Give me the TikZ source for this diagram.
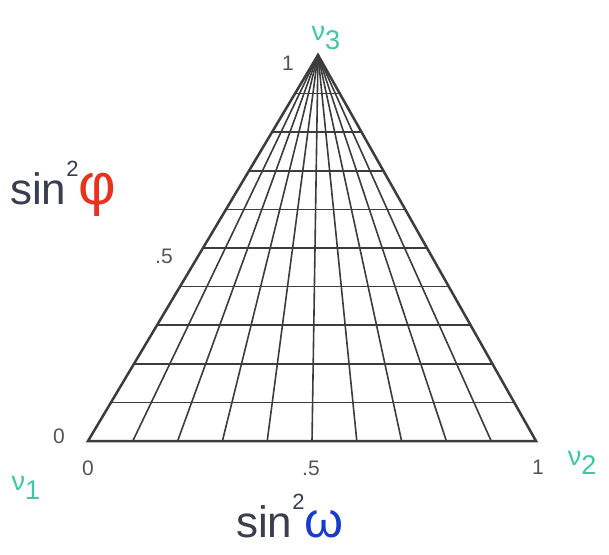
\documentclass[tikz,border=0pt]{standalone}
\usepackage{fontspec}
\setmainfont{Liberation Sans}
\usetikzlibrary{calc}
\definecolor{numgray}{RGB}{85,85,85}
\definecolor{gridgray}{RGB}{60,60,60}
\definecolor{slate}{RGB}{55,62,80}
\definecolor{phired}{RGB}{232,50,30}
\definecolor{omegablue}{RGB}{25,60,205}
\definecolor{nugreen}{RGB}{60,200,160}
\tikzset{
  gridline/.style={draw=gridgray, line width=1.6pt},
  edgeline/.style={draw=gridgray, line width=2.5pt, line join=miter},
  numlabel/.style={text=numgray, font=\fontsize{21}{21}\selectfont, inner sep=0pt},
  nulabel/.style={text=nugreen, font=\fontsize{27}{27}\selectfont, inner sep=0pt},
  axislabel/.style={text=slate, font=\fontsize{44}{44}\selectfont, inner sep=0pt},
}
\begin{document}
\begin{tikzpicture}[x=1pt,y=-1pt]
\useasboundingbox (0,0) rectangle (609,554);
\fill[white] (0,0) rectangle (609,554);
\coordinate (P1) at (88,441);
\coordinate (P2) at (536,441);
\coordinate (P3) at (318,55);
% horizontal lines
\foreach \i in {1,...,9} {
  \draw[gridline] ($(P1)!\i/10!(P3)$) -- ($(P2)!\i/10!(P3)$);
}
% fan lines
\foreach \i in {1,...,9} {
  \draw[gridline] ($(P1)!\i/10!(P2)$) -- (P3);
}
\draw[edgeline] (P1) -- (P2) -- (P3) -- cycle;
% numeric labels
\node[numlabel] (top1) at (288,63) {1};
\node[numlabel] (half) at (164,256) {.5};
\node[numlabel] (zeroL) at (59,436) {0};
\node[numlabel] (zeroB) at (88,468) {0};
\node[numlabel] (halfB) at (311,468) {.5};
\node[numlabel] (oneB) at (538,467) {1};
% nu labels
\node[nulabel] (nu3) at (326,38) {ν\raisebox{-0.6ex}{3}};
\node[nulabel] (nu1) at (26,488) {ν\raisebox{-0.6ex}{1}};
\node[nulabel] (nu2) at (582,463) {ν\raisebox{-0.6ex}{2}};
% axis labels
\node[axislabel, anchor=base west] (phi) at (10,204) {sin\raisebox{1.2ex}{\fontsize{22}{22}\selectfont 2}\textcolor{phired}{\fontsize{58}{58}\selectfont φ}};
\node[axislabel, anchor=base west] (omega) at (236,537) {sin\raisebox{1.2ex}{\fontsize{22}{22}\selectfont 2}\textcolor{omegablue}{\fontsize{50}{50}\selectfont ω}};
\end{tikzpicture}
\end{document}
